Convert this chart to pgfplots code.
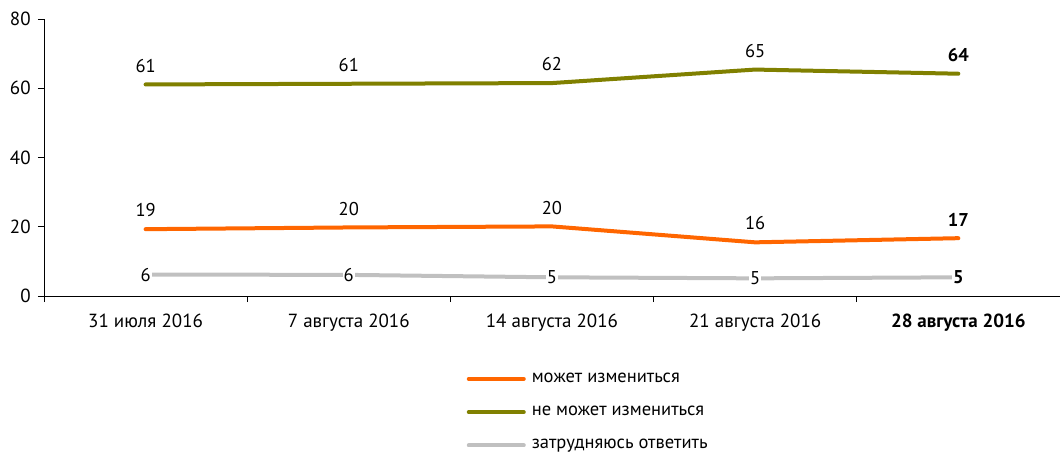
\documentclass[border=0pt]{standalone}
\usepackage{pgfplots}
\pgfplotsset{compat=1.18}
\usepackage{fontspec}
\setmainfont{PT Sans}
\definecolor{corange}{HTML}{FF6600}
\definecolor{colive}{HTML}{808000}
\definecolor{cgray}{HTML}{C0C0C0}
\newcommand{\fs}{\fontsize{18.5}{22}\selectfont}
\newcommand{\ft}{\fontsize{19}{22}\selectfont}
\begin{document}
\fs
\begin{tikzpicture}
\useasboundingbox (-44pt,-160pt) rectangle (1016pt,296pt);
\begin{axis}[
  scale only axis,
  width=1016pt, height=277pt,
  xmin=-0.5, xmax=4.5,
  ymin=0, ymax=80,
  axis x line=bottom, axis y line=left,
  axis line style={-, black, line width=0.6pt},
  xtick={-0.5,0.5,1.5,2.5,3.5,4.5},
  x tick label as interval,
  xticklabels={31 июля 2016, 7 августа 2016, 14 августа 2016, 21 августа 2016, \textbf{28 августа 2016}},
  ytick={0,20,40,60,80},
  tick align=outside,
  major tick length=6pt,
  tick style={black, line width=0.6pt},
  xticklabel style={yshift=-6pt},
  yticklabel style={xshift=-1pt},
  /pgf/number format/assume math mode=true,
  tick label style={font=\ft},
  legend style={draw=none, at={(0.413,-0.262)}, anchor=north west,
    font=\fs, row sep=17pt, column sep=4pt, legend cell align=left},
  legend image code/.code={\draw[#1, line cap=round] (0pt,0pt) -- (55pt,0pt);},
  point meta=explicit symbolic,
  every node near coord/.append style={font=\fs, text=black},
]
\addplot[corange, line width=4pt, line cap=round, nodes near coords, every node near coord/.append style={anchor=south, yshift=4pt}] coordinates {
(0,19.3) [19] (1,19.8) [20] (2,20.1) [20] (3,15.5) [16] (4,16.7) [\textbf{17}]
};
\addlegendentry{может измениться}
\addplot[colive, line width=4pt, line cap=round, nodes near coords, every node near coord/.append style={anchor=south, yshift=4pt}] coordinates {
(0,61.1) [61] (1,61.3) [61] (2,61.5) [62] (3,65.4) [65] (4,64.2) [\textbf{64}]
};
\addlegendentry{не может измениться}
\addplot[cgray, line width=4pt, line cap=round, nodes near coords, every node near coord/.append style={anchor=center, fill=white, inner sep=1pt}] coordinates {
(0,6.2) [6] (1,6.1) [6] (2,5.4) [5] (3,5.1) [5] (4,5.4) [\textbf{5}]
};
\addlegendentry{затрудняюсь ответить}
\end{axis}
\end{tikzpicture}
\end{document}
